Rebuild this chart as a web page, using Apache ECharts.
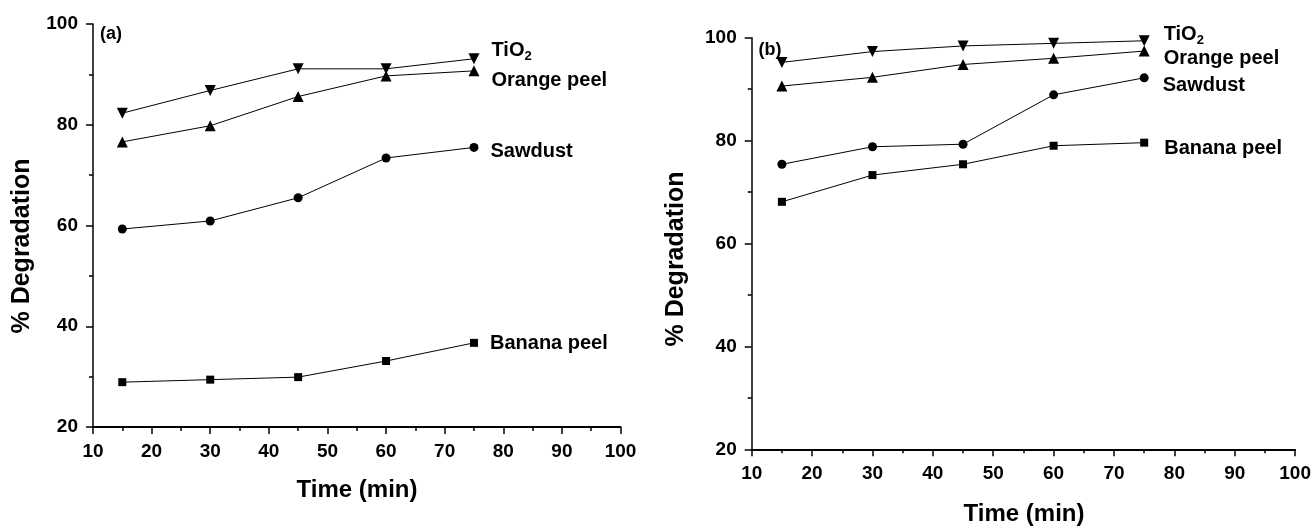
<!DOCTYPE html>
<html>
<head>
<meta charset="utf-8">
<script src="https://cdn.jsdelivr.net/npm/echarts@6/dist/echarts.min.js"></script>
<style>
  html, body { margin: 0; padding: 0; background: #fff; }
  #chart { width: 1314px; height: 529px; }
</style>
</head>
<body>
<div id="chart"></div>
<script>
// ---- data ----
const times = [15, 30, 45, 60, 75];
const seriesNames = ['TiO2', 'Orange peel', 'Sawdust', 'Banana peel'];
// panel (a)
const a_tio2    = [82.3, 86.8, 91.1, 91.1, 93.1];
const a_orange  = [76.6, 79.8, 85.6, 89.7, 90.7];
const a_sawdust = [59.3, 60.9, 65.5, 73.4, 75.5];
const a_banana  = [28.9, 29.4, 29.9, 33.1, 36.7];
// panel (b)
const b_tio2    = [95.2, 97.3, 98.4, 98.9, 99.4];
const b_orange  = [90.6, 92.3, 94.8, 96.0, 97.4];
const b_sawdust = [75.4, 78.8, 79.3, 88.9, 92.2];
const b_banana  = [68.1, 73.3, 75.4, 79.0, 79.6];
const panelLabels = ['(a)', '(b)'];
const xTitle = 'Time (min)';
const yTitle = '% Degradation';

// ---- styling ----
const FONT = 'Liberation Sans, Arial, sans-serif';
const black = '#000';

function axisX(gi) {
  return {
    type: 'value', gridIndex: gi, min: 10, max: 100, interval: 10,
    axisLine: { show: true, onZero: false, lineStyle: { color: black, width: 2 } },
    axisTick: { show: true, inside: false, length: 7, lineStyle: { color: black, width: 1.5 } },
    minorTick: { show: true, splitNumber: 2, length: 4, lineStyle: { color: black, width: 1.5 } },
    splitLine: { show: false },
    axisLabel: { color: black, fontFamily: FONT, fontWeight: 'bold', fontSize: 19, margin: 15 }
  };
}
function axisY(gi) {
  return {
    type: 'value', gridIndex: gi, min: 20, max: 100, interval: 20,
    axisLine: { show: true, onZero: false, lineStyle: { color: black, width: 1.5 } },
    axisTick: { show: true, inside: false, length: 7, lineStyle: { color: black, width: 1.5 } },
    minorTick: { show: true, splitNumber: 2, length: 4, lineStyle: { color: black, width: 1.5 } },
    splitLine: { show: false },
    axisLabel: { color: black, fontFamily: FONT, fontWeight: 'bold', fontSize: 19, margin: 15 }
  };
}

const symbolCfg = {
  'TiO2':        { symbol: 'triangle', size: 11, rotate: 180 },
  'Orange peel': { symbol: 'triangle', size: 11, rotate: 0 },
  'Sawdust':     { symbol: 'circle',   size: 9,  rotate: 0 },
  'Banana peel': { symbol: 'rect',     size: 8,  rotate: 0 }
};

function makeSeries(gi, name, values, labelOffset, labelDist) {
  const cfg = symbolCfg[name];
  const data = times.map((t, i) => {
    const d = { value: [t, values[i]] };
    if (i === times.length - 1) {
      d.label = {
        show: true, position: 'right', distance: labelDist, offset: [0, labelOffset],
        formatter: name === 'TiO2' ? 'TiO{sub|2}' : name,
        color: black, fontFamily: FONT, fontWeight: 'bold', fontSize: 20,
        rich: { sub: { fontSize: 13, fontWeight: 'bold', fontFamily: FONT, color: black, verticalAlign: 'bottom', padding: [12, 0, 0, 0] } }
      };
    }
    return d;
  });
  return {
    type: 'line', name: name, xAxisIndex: gi, yAxisIndex: gi,
    data: data,
    symbol: cfg.symbol, symbolSize: cfg.size, symbolRotate: cfg.rotate,
    lineStyle: { color: black, width: 1 },
    itemStyle: { color: black, borderWidth: 0 },
    label: { show: false },
    animation: false, silent: true
  };
}

const chart = echarts.init(document.getElementById('chart'), null, { renderer: 'canvas' });

const textStyleBase = { fill: black, fontFamily: FONT, fontWeight: 'bold', align: 'center', verticalAlign: 'middle' };

const option = {
  backgroundColor: '#fff',
  animation: false,
  grid: [
    { left: 93, right: 693.5, top: 24, bottom: 102 },
    { left: 751.7, right: 18.5, top: 37.7, bottom: 79.7 }
  ],
  xAxis: [axisX(0), axisX(1)],
  yAxis: [axisY(0), axisY(1)],
  series: [
    makeSeries(0, 'TiO2', a_tio2, -8, 12),
    makeSeries(0, 'Orange peel', a_orange, 10, 12),
    makeSeries(0, 'Sawdust', a_sawdust, 4, 12),
    makeSeries(0, 'Banana peel', a_banana, 1, 12),
    makeSeries(1, 'TiO2', b_tio2, -6, 14),
    makeSeries(1, 'Orange peel', b_orange, 7, 14),
    makeSeries(1, 'Sawdust', b_sawdust, 8, 14),
    makeSeries(1, 'Banana peel', b_banana, 6, 16)
  ],
  graphic: [
    { type: 'text', x: 111, y: 34, style: Object.assign({}, textStyleBase, { text: panelLabels[0], fontSize: 18 }) },
    { type: 'text', x: 770, y: 50, style: Object.assign({}, textStyleBase, { text: panelLabels[1], fontSize: 18 }) },
    { type: 'text', x: 22, y: 246, rotation: Math.PI / 2, style: Object.assign({}, textStyleBase, { text: yTitle, fontSize: 25 }) },
    { type: 'text', x: 676, y: 259, rotation: Math.PI / 2, style: Object.assign({}, textStyleBase, { text: yTitle, fontSize: 25 }) },
    { type: 'text', x: 357, y: 490, style: Object.assign({}, textStyleBase, { text: xTitle, fontSize: 24 }) },
    { type: 'text', x: 1024, y: 514, style: Object.assign({}, textStyleBase, { text: xTitle, fontSize: 24 }) }
  ]
};
chart.setOption(option);
</script>
</body>
</html>
